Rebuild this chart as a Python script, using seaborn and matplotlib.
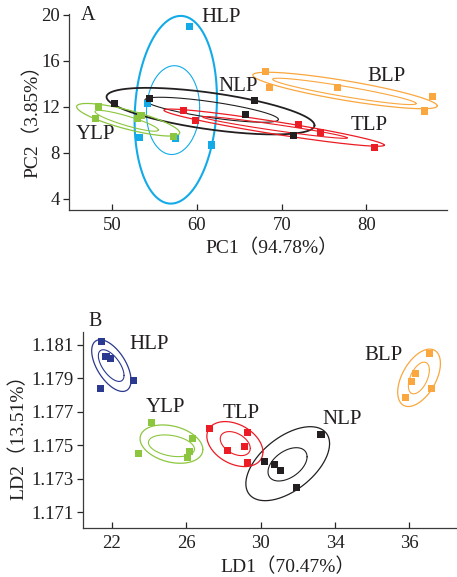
import numpy as np
import pandas as pd
import matplotlib
matplotlib.use('Agg')
import matplotlib.pyplot as plt
import seaborn as sns

groups = ['HLP', 'NLP', 'TLP', 'BLP', 'YLP']

# panel A - PCA scores
pca_group = ['HLP'] * 5 + ['NLP'] * 5 + ['TLP'] * 5 + ['BLP'] * 5 + ['YLP'] * 5
pca_x = [59.1, 54.2, 53.2, 57.5, 61.7,
         50.3, 54.4, 66.8, 65.7, 71.4,
         58.4, 59.8, 72.0, 74.6, 80.9,
         68.1, 68.6, 76.6, 87.8, 86.9,
         48.4, 48.0, 53.0, 53.4, 57.2]
pca_y = [19.03, 12.3, 9.36, 9.2, 8.67,
         12.3, 12.75, 12.58, 11.34, 9.47,
         11.69, 10.83, 10.48, 9.79, 8.43,
         15.06, 13.67, 13.67, 12.9, 11.63,
         12.0, 11.0, 11.0, 11.26, 9.44]

# ellipses: centre, half x-extent, half y-extent, correlation (outer, inner)
pca_outer_cx = [57.5, 61.6, 69.1, 77.47, 51.88]
pca_outer_cy = [11.74, 11.62, 10.18, 13.42, 10.87]
pca_outer_dx = [4.86, 12.27, 13.0, 10.88, 6.08]
pca_outer_dy = [8.18, 2.03, 1.62, 1.59, 1.42]
pca_outer_r = [0.12, -0.61, -0.94, -0.84, -0.8]
pca_inner_cx = [57.18, 61.73, 69.2, 77.4, 51.7]
pca_inner_cy = [11.71, 11.74, 10.2, 13.34, 10.78]
pca_inner_dx = [3.14, 7.88, 8.53, 8.47, 3.73]
pca_inner_dy = [3.87, 1.09, 0.95, 1.15, 0.91]
pca_inner_r = [0.05, -0.77, -0.96, -0.92, -0.88]

pca_label_x = [62.9, 64.8, 80.3, 82.4, 48.0]
pca_label_y = [19.77, 13.8, 10.41, 14.66, 9.55]

# panel B - LDA scores
lda_group = pca_group
lda_x = [21.44, 21.69, 21.95, 23.16, 21.39,
         33.25, 30.21, 30.74, 31.06, 31.94,
         27.25, 29.30, 29.14, 28.22, 29.30,
         39.09, 38.34, 38.13, 39.20, 37.80,
         24.13, 26.34, 26.18, 26.07, 23.43]
lda_y = [1.18120, 1.18030, 1.18020, 1.17885, 1.17837,
         1.17566, 1.17401, 1.17387, 1.17351, 1.17249,
         1.17598, 1.17578, 1.17495, 1.17471, 1.17399,
         1.18050, 1.17931, 1.17883, 1.17841, 1.17787,
         1.17638, 1.17542, 1.17465, 1.17429, 1.17453]

lda_outer_cx = [21.98, 31.46, 28.62, 38.52, 25.21]
lda_outer_cy = [1.17976, 1.17390, 1.17507, 1.17903, 1.17507]
lda_outer_dx = [1.058, 2.25, 1.507, 1.149, 1.687]
lda_outer_dy = [0.001545, 0.00221, 0.001345, 0.001715, 0.001145]
lda_outer_r = [-0.57, 0.54, -0.35, 0.5, -0.28]
lda_inner_cx = [21.97, 31.45, 28.64, 38.51, 25.21]
lda_inner_cy = [1.17976, 1.17386, 1.17510, 1.17902, 1.17497]
lda_inner_dx = [0.69, 1.05, 0.807, 0.565, 1.238]
lda_inner_dy = [0.000947, 0.000995, 0.000717, 0.000947, 0.000649]
lda_inner_r = [-0.62, 0.45, -0.4, 0.5, -0.3]

lda_label_x = [24.03, 34.41, 28.97, 36.62, 24.87]
lda_label_y = [1.18100, 1.17652, 1.17692, 1.18034, 1.17728]

pca_xticks = [50, 60, 70, 80]
pca_yticks = [4, 8, 12, 16, 20]
lda_xticks = [22, 26, 30, 34, 38]
lda_xticklabels = ['22', '26', '30', '34', '36']
lda_yticks = [1.171, 1.173, 1.175, 1.177, 1.179, 1.181]

colors_a = {'HLP': '#12abe8', 'NLP': '#231f20', 'TLP': '#ec1c24',
            'BLP': '#f9a73e', 'YLP': '#8cc63f'}
colors_b = dict(colors_a, HLP='#2b3990')

sns.set_style('ticks')
plt.rcParams['font.family'] = ['Liberation Serif', 'Noto Sans CJK SC']
plt.rcParams['axes.edgecolor'] = '#3a3a3a'
plt.rcParams['axes.linewidth'] = 0.9
plt.rcParams['text.color'] = '#231f20'
plt.rcParams['axes.labelcolor'] = '#231f20'
plt.rcParams['xtick.labelcolor'] = '#231f20'
plt.rcParams['ytick.labelcolor'] = '#231f20'


def ellipse_xy(cx, cy, dx, dy, r):
    t = np.linspace(0, 2 * np.pi, 300)
    x = cx + dx * np.cos(t)
    y = cy + dy * (r * np.cos(t) + np.sqrt(1 - r ** 2) * np.sin(t))
    return x, y


def panel(ax, gx, gy, gg, outer, inner, lab_x, lab_y, colors, lw_outer, lw_inner):
    df = pd.DataFrame({'x': gx, 'y': gy, 'group': gg})
    for i, g in enumerate(groups):
        ex, ey = ellipse_xy(outer[0][i], outer[1][i], outer[2][i], outer[3][i], outer[4][i])
        ax.plot(ex, ey, color=colors[g], lw=lw_outer[i], zorder=2)
        ex, ey = ellipse_xy(inner[0][i], inner[1][i], inner[2][i], inner[3][i], inner[4][i])
        ax.plot(ex, ey, color=colors[g], lw=lw_inner, zorder=2)
        ax.text(lab_x[i], lab_y[i], g, fontsize=15, ha='center', va='center')
    sns.scatterplot(data=df, x='x', y='y', hue='group', palette=colors, marker='s',
                    s=26, linewidth=0, legend=False, ax=ax, zorder=3)
    sns.despine(ax=ax)
    ax.tick_params(axis='x', direction='in', length=4.5, width=0.9, labelsize=13.5, pad=5)
    ax.tick_params(axis='y', direction='out', length=4.5, width=0.9, labelsize=13.5, pad=2)


fig = plt.figure(figsize=(4.57, 5.77), dpi=100)

ax1 = fig.add_axes([0.151, 0.636, 0.827, 0.340])
panel(ax1, pca_x, pca_y, pca_group,
      (pca_outer_cx, pca_outer_cy, pca_outer_dx, pca_outer_dy, pca_outer_r),
      (pca_inner_cx, pca_inner_cy, pca_inner_dx, pca_inner_dy, pca_inner_r),
      pca_label_x, pca_label_y, colors_a, [1.5, 1.3, 0.9, 0.9, 0.9], 0.8)
ax1.set_xlim(44.9, 89.5)
ax1.set_ylim(3.0, 20.1)
ax1.set_xticks(pca_xticks)
ax1.set_yticks(pca_yticks)
ax1.set_xlabel('PC1（94.78%）', fontsize=14, va='center')
ax1.set_ylabel('PC2（3.85%）', fontsize=14, va='center')
ax1.xaxis.set_label_coords(0.537, -0.194)
ax1.yaxis.set_label_coords(-0.098, 0.476)
ax1.text(0.05, 0.99, 'A', transform=ax1.transAxes, fontsize=14.5, ha='center', va='center')

ax2 = fig.add_axes([0.181, 0.085, 0.819, 0.340])
panel(ax2, lda_x, lda_y, lda_group,
      (lda_outer_cx, lda_outer_cy, lda_outer_dx, lda_outer_dy, lda_outer_r),
      (lda_inner_cx, lda_inner_cy, lda_inner_dx, lda_inner_dy, lda_inner_r),
      lda_label_x, lda_label_y, colors_b, [0.9] * 5, 0.8)
ax2.set_xlim(20.44, 40.56)
ax2.set_ylim(1.17006, 1.18178)
ax2.set_xticks(lda_xticks)
ax2.set_xticklabels(lda_xticklabels)
ax2.set_yticks(lda_yticks)
ax2.set_yticklabels([f'{v:.3f}' for v in lda_yticks])
ax2.set_xlabel('LD1（70.47%）', fontsize=14, va='center')
ax2.set_ylabel('LD2（13.51%）', fontsize=14, va='center')
ax2.xaxis.set_label_coords(0.549, -0.199)
ax2.yaxis.set_label_coords(-0.172, 0.485)
ax2.text(0.033, 1.053, 'B', transform=ax2.transAxes, fontsize=14.5, ha='center', va='center')

fig.savefig('out.png', dpi=100)
